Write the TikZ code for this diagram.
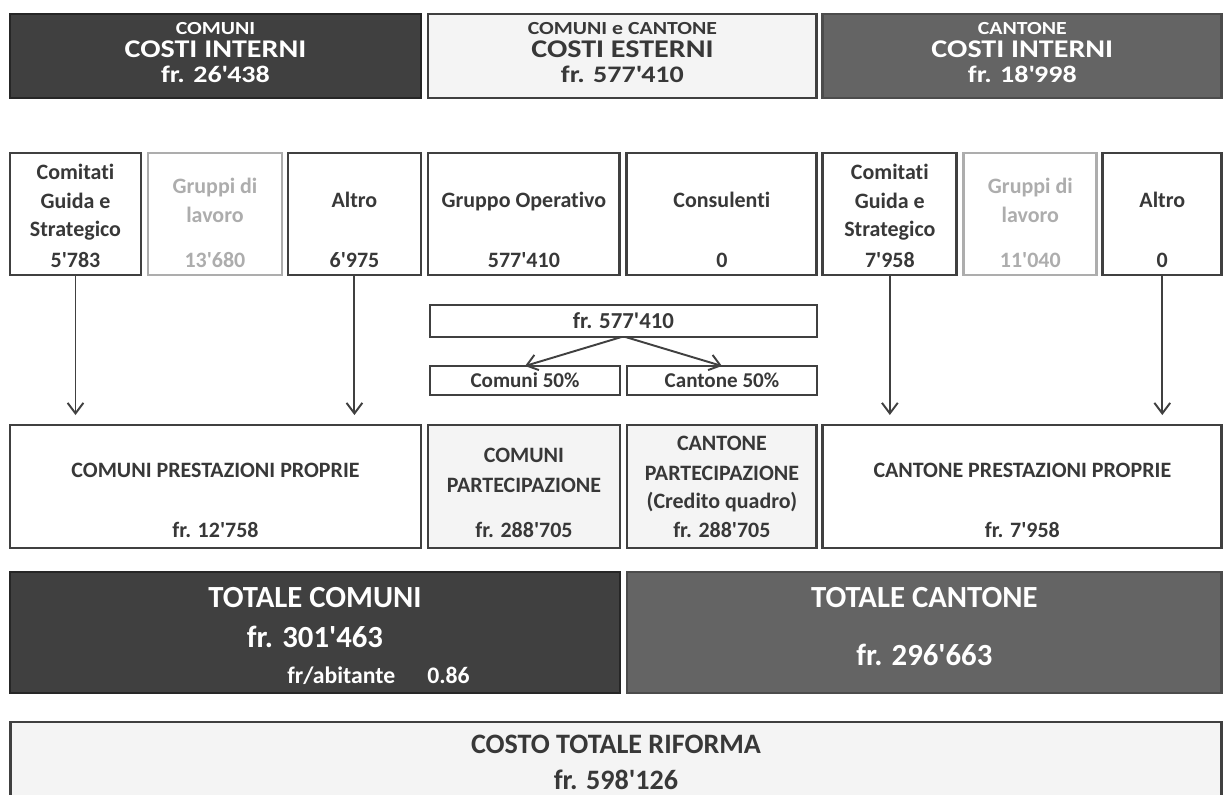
\documentclass[tikz,border=0pt]{standalone}
\usepackage{fontspec}
\setmainfont{Carlito}[Ligatures=NoCommon]
\newfontfamily\largo{Carlito}[Ligatures=NoCommon, FakeStretch=1.18]
\usetikzlibrary{positioning,arrows.meta}

\definecolor{scuro}{HTML}{404040}
\definecolor{medio}{HTML}{646464}
\definecolor{chiaro}{HTML}{F4F4F4}
\definecolor{spento}{HTML}{ADADAD}
\definecolor{inchiostro}{HTML}{383838}
\newcommand{\ap}{\textquotesingle}

\begin{document}
\begin{tikzpicture}[x=0.02cm, y=-0.02cm, node distance=0.14cm, text=inchiostro,
    casella/.style={draw=scuro, line width=1.6pt, inner sep=0pt, outer sep=0pt, fill=white},
    spenta/.style={casella, draw=spento},
    testata/.style={casella, minimum height=1.68cm},
    voce/.style={minimum width=#1, minimum height=2.44cm},
    parte/.style={minimum width=#1, minimum height=2.46cm},
    somma/.style={casella, minimum width=#1, minimum height=2.42cm},
    quota/.style={draw=scuro, line width=0.8pt, inner sep=0pt, outer sep=0pt,
                  font=\fontsize{12}{14}\selectfont\bfseries},
    riga/.style={anchor=base, inner sep=0pt, font=\fontsize{12.5}{15}\selectfont\bfseries},
    grigia/.style={riga, text=spento},
    titoletto/.style={anchor=base, inner sep=0pt, font=\largo\fontsize{10.5}{12}\selectfont\bfseries},
    titolo/.style={anchor=base, inner sep=0pt, font=\largo\fontsize{14.5}{17}\selectfont\bfseries},
    cifra/.style={anchor=base, inner sep=0pt, font=\largo\fontsize{13.5}{16}\selectfont\bfseries},
    totale/.style={anchor=base, inner sep=0pt, text=white, font=\fontsize{17.5}{21}\selectfont\bfseries},
    freccia/.style={draw=scuro, line width=1.1pt, -{Straight Barb[length=6pt,width=9pt]}}]

\useasboundingbox (0,0) rectangle (1226,794);
\clip (0,0) rectangle (1226,794);

% testate
\node[testata, fill=scuro, draw=black!85, minimum width=8.22cm] (HL) at (215.5,56) {};
\node[testata, fill=chiaro, minimum width=7.78cm, right=of HL] (HM) {};
\node[testata, fill=medio, draw=black!70, minimum width=7.98cm, right=0.12cm of HM] (HR) {};

\node[titoletto, text=white] (HL1) at ([yshift=-0.41cm]HL.north) {COMUNI};
\node[titolo, text=white] (HL2) at ([yshift=-0.87cm]HL.north) {COSTI INTERNI};
\node[cifra, text=white] (HL3) at ([yshift=-1.37cm]HL.north) {fr. 26\ap438};
\node[titoletto] (HM1) at ([yshift=-0.41cm]HM.north) {COMUNI e CANTONE};
\node[titolo] (HM2) at ([yshift=-0.87cm]HM.north) {COSTI ESTERNI};
\node[cifra] (HM3) at ([yshift=-1.37cm]HM.north) {fr. 577\ap410};
\node[titoletto, text=white] (HR1) at ([yshift=-0.41cm]HR.north) {CANTONE};
\node[titolo, text=white] (HR2) at ([yshift=-0.87cm]HR.north) {COSTI INTERNI};
\node[cifra, text=white] (HR3) at ([yshift=-1.37cm]HR.north) {fr. 18\ap998};

% voci di costo
\node[casella, voce=2.62cm] (C1) at (75.5,214) {};
\node[spenta, voce=2.68cm, right=of C1] (C2) {};
\node[casella, voce=2.66cm, right=0.12cm of C2] (C3) {};
\node[casella, voce=3.84cm, right=of C3] (C4) {};
\node[casella, voce=3.80cm, right=of C4] (C5) {};
\node[casella, voce=2.68cm, right=0.12cm of C5] (C6) {};
\node[spenta, voce=2.66cm, right=of C6] (C7) {};
\node[casella, voce=2.38cm, right=0.12cm of C7] (C8) {};

\node[riga] (C1a) at ([yshift=-0.52cm]C1.north) {Comitati};
\node[riga] (C1b) at ([yshift=-1.10cm]C1.north) {Guida e};
\node[riga] (C1c) at ([yshift=-1.68cm]C1.north) {Strategico};
\node[riga] (C1n) at ([yshift=-2.30cm]C1.north) {5\ap783};
\node[grigia] (C2a) at ([yshift=-0.80cm]C2.north) {Gruppi di};
\node[grigia] (C2b) at ([yshift=-1.38cm]C2.north) {lavoro};
\node[grigia] (C2n) at ([yshift=-2.30cm]C2.north) {13\ap680};
\node[riga] (C3a) at ([yshift=-1.08cm]C3.north) {Altro};
\node[riga] (C3n) at ([yshift=-2.30cm]C3.north) {6\ap975};
\node[riga] (C4a) at ([yshift=-1.08cm]C4.north) {Gruppo Operativo};
\node[riga] (C4n) at ([yshift=-2.30cm]C4.north) {577\ap410};
\node[riga] (C5a) at ([yshift=-1.08cm]C5.north) {Consulenti};
\node[riga] (C5n) at ([yshift=-2.30cm]C5.north) {0};
\node[riga] (C6a) at ([yshift=-0.52cm]C6.north) {Comitati};
\node[riga] (C6b) at ([yshift=-1.10cm]C6.north) {Guida e};
\node[riga] (C6c) at ([yshift=-1.68cm]C6.north) {Strategico};
\node[riga] (C6n) at ([yshift=-2.30cm]C6.north) {7\ap958};
\node[grigia] (C7a) at ([yshift=-0.80cm]C7.north) {Gruppi di};
\node[grigia] (C7b) at ([yshift=-1.38cm]C7.north) {lavoro};
\node[grigia] (C7n) at ([yshift=-2.30cm]C7.north) {11\ap040};
\node[riga] (C8a) at ([yshift=-1.08cm]C8.north) {Altro};
\node[riga] (C8n) at ([yshift=-2.30cm]C8.north) {0};

% ripartizione
\node[quota, minimum width=7.74cm, minimum height=0.64cm,
      font=\fontsize{13}{15}\selectfont\bfseries] (S) at (623.5,321) {fr. 577\ap410};
\node[quota, minimum width=3.80cm, minimum height=0.58cm] (SL) at (525,380.5) {Comuni 50\%};
\node[quota, minimum width=3.80cm, minimum height=0.58cm, right=of SL] (SR) {Cantone 50\%};

% partecipazioni
\node[casella, parte=8.22cm] (P1) at (215.5,486.5) {};
\node[casella, fill=chiaro, parte=3.84cm, right=of P1] (P2) {};
\node[casella, fill=chiaro, parte=3.80cm, right=of P2] (P3) {};
\node[casella, parte=7.98cm, right=0.12cm of P3] (P4) {};

\node[riga] (P1a) at ([yshift=-1.04cm]P1.north) {COMUNI PRESTAZIONI PROPRIE};
\node[riga] (P1n) at ([yshift=-2.26cm]P1.north) {fr. 12\ap758};
\node[riga] (P2a) at ([yshift=-0.74cm]P2.north) {COMUNI};
\node[riga] (P2b) at ([yshift=-1.34cm]P2.north) {PARTECIPAZIONE};
\node[riga] (P2n) at ([yshift=-2.26cm]P2.north) {fr. 288\ap705};
\node[riga] (P3a) at ([yshift=-0.50cm]P3.north) {CANTONE};
\node[riga] (P3b) at ([yshift=-1.10cm]P3.north) {PARTECIPAZIONE};
\node[riga] (P3c) at ([yshift=-1.66cm]P3.north) {(Credito quadro)};
\node[riga] (P3n) at ([yshift=-2.26cm]P3.north) {fr. 288\ap705};
\node[riga] (P4a) at ([yshift=-1.04cm]P4.north) {CANTONE PRESTAZIONI PROPRIE};
\node[riga] (P4n) at ([yshift=-2.26cm]P4.north) {fr. 7\ap958};

% totali
\node[somma=12.2cm, fill=scuro, draw=black!85] (TL) at (315,632.5) {};
\node[somma=11.9cm, fill=medio, draw=black!70, right=of TL] (TR) {};
\node[somma=24.24cm, fill=chiaro] (TOT) at (616,782.5) {};

\node[totale] (TL1) at ([yshift=-0.70cm]TL.north) {TOTALE COMUNI};
\node[totale] (TL2) at ([yshift=-1.50cm]TL.north) {fr. 301\ap463};
\node[riga, text=white, anchor=base west, font=\fontsize{13.5}{16}\selectfont\bfseries]
      (TL3) at ([xshift=5.54cm, yshift=-2.22cm]TL.north west) {fr/abitante};
\node[riga, text=white, anchor=base west, font=\fontsize{13.5}{16}\selectfont\bfseries]
      (TL4) at ([xshift=8.34cm, yshift=-2.22cm]TL.north west) {0.86};
\node[totale] (TR1) at ([yshift=-0.70cm]TR.north) {TOTALE CANTONE};
\node[totale] (TR2) at ([yshift=-1.86cm]TR.north) {fr. 296\ap663};
\node[totale, text=inchiostro, font=\fontsize{16}{19}\selectfont\bfseries] (TOT1) at ([yshift=-0.62cm]TOT.north) {COSTO TOTALE RIFORMA};
\node[totale, text=inchiostro, font=\fontsize{16}{19}\selectfont\bfseries] (TOT2) at ([yshift=-1.34cm]TOT.north) {fr. 598\ap126};

% frecce
\draw[freccia, shorten >=0.2cm] (C1.south) -- (C1.south |- P1.north);
\draw[freccia, shorten >=0.2cm] (C3.south) -- (C3.south |- P1.north);
\draw[freccia, shorten >=0.2cm] (C6.south) -- (C6.south |- P4.north);
\draw[freccia, shorten >=0.2cm] (C8.south) -- (C8.south |- P4.north);
\draw[freccia] ([xshift=-0.04cm]S.south) -- (SL.north);
\draw[freccia] ([xshift=0.04cm]S.south) -- (SR.north);
\end{tikzpicture}
\end{document}
